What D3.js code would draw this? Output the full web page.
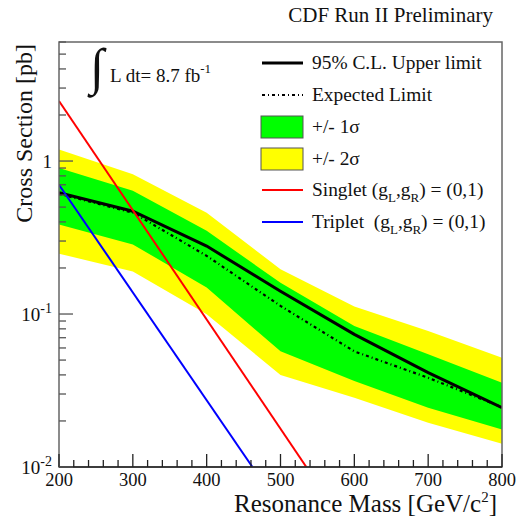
<!DOCTYPE html>
<html>
<head>
<meta charset="utf-8">
<script src="https://cdn.jsdelivr.net/npm/d3@7"></script>
<style>
  body { margin: 0; background: #fff; }
  svg text { font-family: "Liberation Serif", "DejaVu Serif", serif; fill: #111; }
</style>
</head>
<body>
<svg id="chart" width="517" height="523"></svg>
<script>
// masses in GeV/c^2
var mass = [200, 300, 400, 500, 600, 700, 800];
// limits in pb
var observed = [0.62, 0.47, 0.278, 0.141, 0.0736, 0.0414, 0.0244];
var expected = [0.61, 0.46, 0.24, 0.113, 0.057, 0.0383, 0.0246];
var band1_lo = [0.385, 0.285, 0.149, 0.057, 0.0365, 0.0244, 0.0176];
var band1_hi = [0.90, 0.64, 0.35, 0.16, 0.0835, 0.0545, 0.0356];
var band2_lo = [0.248, 0.19, 0.0995, 0.040, 0.0284, 0.0195, 0.0142];
var band2_hi = [1.19, 0.82, 0.46, 0.196, 0.112, 0.0774, 0.0518];
// theory curves
var singlet_mass = [200, 535];
var singlet_xs = [2.47, 0.01];
var triplet_mass = [200, 462];
var triplet_xs = [0.70, 0.01];

var xTicks = [200, 300, 400, 500, 600, 700, 800];
var yTicks = [1, 0.1, 0.01];
var yTickLabels = [["1", ""], ["10", "-1"], ["10", "-2"]];

var LEFT = 59, RIGHT = 502, TOP = 42, BOTTOM = 467;

var svg = d3.select('#chart');

var x = d3.scaleLinear().domain([200, 800]).range([LEFT, RIGHT]);
var y = d3.scaleLog().domain([0.01, 6]).range([BOTTOM, TOP]);

svg.append('defs').append('clipPath').attr('id', 'clip')
  .append('rect').attr('x', LEFT).attr('y', TOP)
  .attr('width', RIGHT - LEFT).attr('height', BOTTOM - TOP);

var plot = svg.append('g').attr('clip-path', 'url(#clip)');

var area = function(lo, hi) {
  return d3.area()
    .x(function(d, i) { return x(mass[i]); })
    .y0(function(d, i) { return y(lo[i]); })
    .y1(function(d, i) { return y(hi[i]); })(mass);
};

plot.append('path').attr('d', area(band2_lo, band2_hi)).attr('fill', '#ffff00');
plot.append('path').attr('d', area(band1_lo, band1_hi)).attr('fill', '#00ff00');

var line = d3.line()
  .x(function(d) { return x(d[0]); })
  .y(function(d) { return y(d[1]); });

plot.append('path')
  .attr('d', line(d3.zip(mass, expected)))
  .attr('fill', 'none').attr('stroke', '#000')
  .attr('stroke-width', 2.2).attr('stroke-dasharray', '3,3,1,3');

plot.append('path')
  .attr('d', line(d3.zip(mass, observed)))
  .attr('fill', 'none').attr('stroke', '#000').attr('stroke-width', 3);

plot.append('path')
  .attr('d', line(d3.zip(singlet_mass, singlet_xs)))
  .attr('fill', 'none').attr('stroke', '#ff0000').attr('stroke-width', 2);

plot.append('path')
  .attr('d', line(d3.zip(triplet_mass, triplet_xs)))
  .attr('fill', 'none').attr('stroke', '#0000ff').attr('stroke-width', 2);

// frame
svg.append('rect')
  .attr('x', LEFT).attr('y', TOP)
  .attr('width', RIGHT - LEFT).attr('height', BOTTOM - TOP)
  .attr('fill', 'none').attr('stroke', '#666').attr('stroke-width', 1.5);

// x axis ticks (pointing up)
var xMinor = d3.range(200, 801, 20);
svg.append('g').selectAll('line').data(xMinor).enter().append('line')
  .attr('x1', d => x(d)).attr('x2', d => x(d))
  .attr('y1', BOTTOM)
  .attr('y2', d => BOTTOM - (d % 100 === 0 ? 13 : 7))
  .attr('stroke', '#222').attr('stroke-width', 1.3);
svg.append('line').attr('x1', LEFT).attr('x2', RIGHT)
  .attr('y1', BOTTOM).attr('y2', BOTTOM).attr('stroke', '#222').attr('stroke-width', 1.5);

svg.append('g').selectAll('text').data(xTicks).enter().append('text')
  .attr('x', d => x(d)).attr('y', 486)
  .attr('text-anchor', 'middle').attr('font-size', '18.5px')
  .text(d => d);

// y axis ticks (pointing right)
var yMinor = [];
[0.01, 0.1, 1].forEach(function(dec) {
  for (var k = 1; k <= 9; k++) {
    if (dec * k <= 6) yMinor.push({ v: dec * k, major: k === 1 });
  }
});
svg.append('g').selectAll('line').data(yMinor).enter().append('line')
  .attr('x1', LEFT).attr('x2', d => LEFT + (d.major ? 14 : 7))
  .attr('y1', d => y(d.v)).attr('y2', d => y(d.v))
  .attr('stroke', '#555').attr('stroke-width', 1.3);

yTicks.forEach(function(v, i) {
  var t = svg.append('text')
    .attr('x', 52).attr('y', y(v) + 7)
    .attr('text-anchor', 'end').attr('font-size', '19px');
  t.append('tspan').text(yTickLabels[i][0]);
  if (yTickLabels[i][1]) {
    t.append('tspan').attr('dy', -8).attr('font-size', '14px').text(yTickLabels[i][1]);
  }
});

// axis titles
var xt = svg.append('text')
  .attr('x', 497).attr('y', 512)
  .attr('text-anchor', 'end').attr('font-size', '25px');
xt.append('tspan').text('Resonance Mass [GeV/c');
xt.append('tspan').attr('dy', -10).attr('font-size', '15px').text('2');
xt.append('tspan').attr('dy', 10).text(']');

svg.append('text')
  .attr('transform', 'translate(32,' + (TOP + 2) + ') rotate(-90)')
  .attr('text-anchor', 'end').attr('font-size', '24px')
  .text('Cross Section [pb]');

// title
svg.append('text')
  .attr('x', 493).attr('y', 22)
  .attr('text-anchor', 'end').attr('font-size', '21px')
  .text('CDF Run II Preliminary');

// luminosity
svg.append('text')
  .attr('x', 90).attr('y', 84)
  .attr('font-size', '51px')
  .text('\u222B');
var lum = svg.append('text')
  .attr('x', 110).attr('y', 82).attr('font-size', '19px');
lum.append('tspan').text('L dt= 8.7 fb');
lum.append('tspan').attr('dy', -9).attr('font-size', '13px').text('-1');

// legend
var legend = [
  { type: 'line', color: '#000', width: 3, dash: null, label: ['95% C.L. Upper limit'] },
  { type: 'line', color: '#000', width: 2.2, dash: '3,3,1,3', label: ['Expected Limit'] },
  { type: 'box', color: '#00ff00', label: ['+/- 1\u03C3'] },
  { type: 'box', color: '#ffff00', label: ['+/- 2\u03C3'] },
  { type: 'line', color: '#ff0000', width: 2, dash: null, label: ['Singlet (g', 'L', ',g', 'R', ') = (0,1)'] },
  { type: 'line', color: '#0000ff', width: 2, dash: null, label: ['Triplet\u00A0 (g', 'L', ',g', 'R', ') = (0,1)'] }
];

var legY = [63, 95, 127, 159, 190, 222];

legend.forEach(function(d, i) {
  var yy = legY[i];
  if (d.type === 'line') {
    svg.append('line')
      .attr('x1', 262).attr('x2', 303).attr('y1', yy).attr('y2', yy)
      .attr('stroke', d.color).attr('stroke-width', d.width)
      .attr('stroke-dasharray', d.dash);
  } else {
    svg.append('rect')
      .attr('x', 261).attr('y', yy - 11).attr('width', 42).attr('height', 22)
      .attr('fill', d.color).attr('stroke', '#555').attr('stroke-width', 1);
  }
  var t = svg.append('text')
    .attr('x', 312).attr('y', yy + 6).attr('font-size', '19.4px');
  d.label.forEach(function(s, j) {
    if (j % 2 === 1) {
      t.append('tspan').attr('dy', 6).attr('font-size', '13px').text(s);
    } else {
      t.append('tspan').attr('dy', j > 0 ? -6 : 0).text(s);
    }
  });
});
</script>
</body>
</html>
